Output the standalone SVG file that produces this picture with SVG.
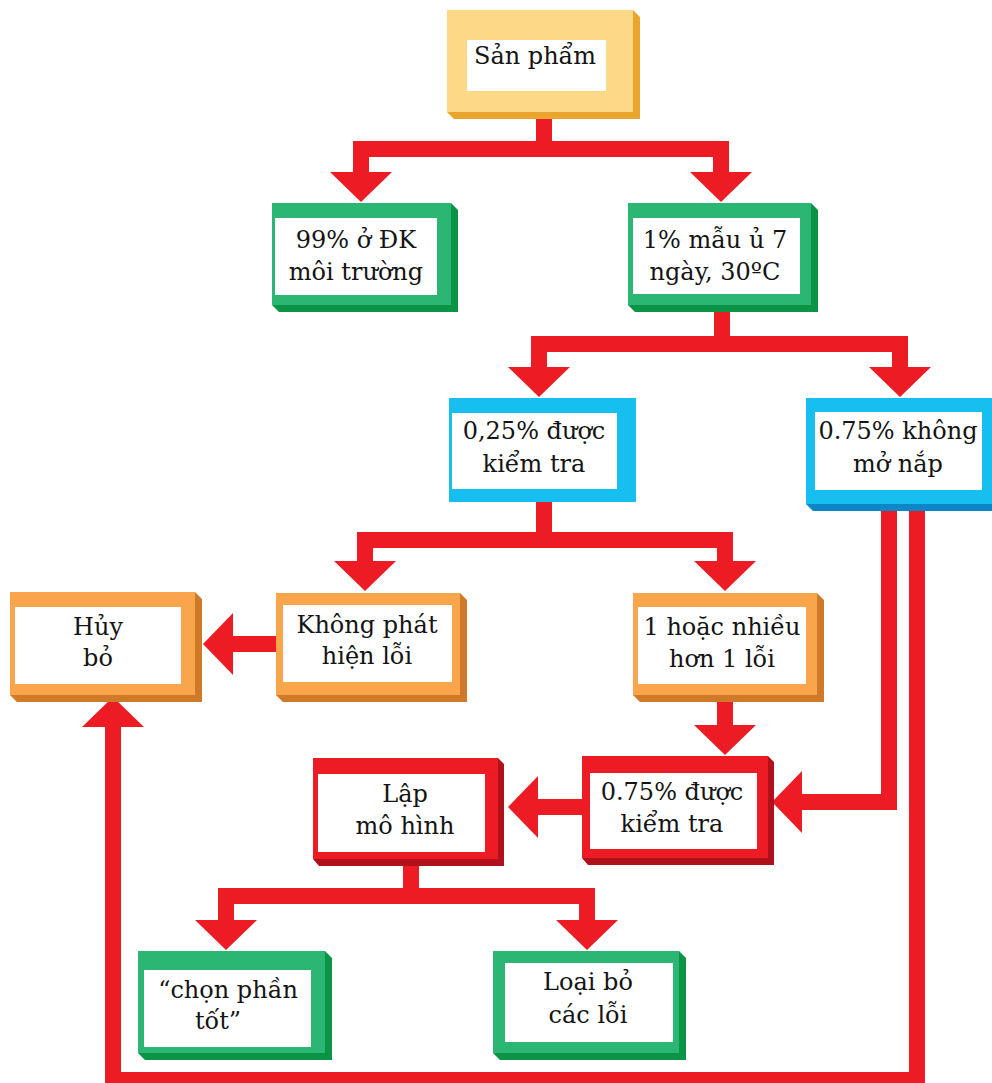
<svg xmlns="http://www.w3.org/2000/svg" xmlns:xlink="http://www.w3.org/1999/xlink" width="992" height="1083" viewBox="0 0 992 1083">
  <style>
    .wire { fill: none; stroke: #ED1C24; stroke-width: 16; stroke-linejoin: miter; stroke-linecap: butt; }
    .head { fill: #ED1C24; }
    .in { fill: #FFFFFF; }
    .lbl { font-family: "DejaVu Serif", "Liberation Serif", serif; font-size: 24px; fill: #141414; text-anchor: middle; }
    .yel .face { fill: #FDD886; } .yel .side { fill: #E9A52E; }
    .grn .face { fill: #2BB673; } .grn .side { fill: #0B9446; }
    .blu .face { fill: #17BEF0; } .blu .side { fill: #0C86C6; }
    .org .face { fill: #F8A54B; } .org .side { fill: #CF7A28; }
    .red .face { fill: #ED1C24; } .red .side { fill: #B0111A; }
  </style>
  <defs>
    <!-- arrowhead pointing down, tip at the origin -->
    <path id="ah" class="head" d="M-31,-30 L31,-30 L0,0 Z"/>
  </defs>

  <rect width="992" height="1083" fill="#FFFFFF"/>

  <!-- connectors -->
  <g id="connectors">
    <!-- Sản phẩm split -->
    <path class="wire" d="M544,112 V149"/>
    <path class="wire" d="M361,173 V149 H721 V173"/>
    <use xlink:href="#ah" transform="translate(361,202)"/>
    <use xlink:href="#ah" transform="translate(721,202)"/>

    <!-- 1% split -->
    <path class="wire" d="M722,305 V344"/>
    <path class="wire" d="M539,368 V344 H900 V368"/>
    <use xlink:href="#ah" transform="translate(539,397)"/>
    <use xlink:href="#ah" transform="translate(900,397)"/>

    <!-- 0,25% split -->
    <path class="wire" d="M544,502 V540"/>
    <path class="wire" d="M365,562 V540 H725 V562"/>
    <use xlink:href="#ah" transform="translate(365,591)"/>
    <use xlink:href="#ah" transform="translate(725,591)"/>

    <!-- Không phát hiện lỗi to Hủy bỏ -->
    <path class="wire" d="M276,644 H232"/>
    <use xlink:href="#ah" transform="translate(203,644) rotate(90)"/>

    <!-- 1 hoặc nhiều to 0.75% được kiểm tra -->
    <path class="wire" d="M725,700 V726"/>
    <use xlink:href="#ah" transform="translate(725,755)"/>

    <!-- 0.75% được kiểm tra to Lập mô hình -->
    <path class="wire" d="M582,807 H537"/>
    <use xlink:href="#ah" transform="translate(508,807) rotate(90)"/>

    <!-- 0.75% không mở nắp to 0.75% được kiểm tra -->
    <path class="wire" d="M889,505 V802 H800"/>
    <use xlink:href="#ah" transform="translate(772,802) rotate(90)"/>

    <!-- 0.75% không mở nắp round to Hủy bỏ -->
    <path class="wire" d="M917,505 V1080 H113 V725"/>
    <use xlink:href="#ah" transform="translate(113,697) rotate(180)"/>

    <!-- Lập mô hình split -->
    <path class="wire" d="M411,862 V896"/>
    <path class="wire" d="M226,921 V896 H587 V921"/>
    <use xlink:href="#ah" transform="translate(226,950)"/>
    <use xlink:href="#ah" transform="translate(587,950)"/>
  </g>

  <!-- nodes: darker bevel behind, coloured face, white label panel -->
  <g id="san-pham" class="yel">
    <path class="side" d="M633,10 L640,17 V119 H454 L447,112 H633 Z"/>
    <rect class="face" x="447" y="10" width="186" height="102"/>
    <rect class="in" x="467" y="40" width="139" height="51"/>
    <text class="lbl" x="535" y="64">Sản phẩm</text>
  </g>

  <g id="dk-moi-truong" class="grn">
    <path class="side" d="M451,203 L458,210 V312 H279 L272,305 H451 Z"/>
    <rect class="face" x="272" y="203" width="179" height="102"/>
    <rect class="in" x="275" y="218" width="162" height="77"/>
    <text class="lbl" x="356" y="248">99% ở ĐK</text>
    <text class="lbl" x="356" y="280">môi trường</text>
  </g>

  <g id="mau-u" class="grn">
    <path class="side" d="M811,203 L818,210 V312 H635 L628,305 H811 Z"/>
    <rect class="face" x="628" y="203" width="183" height="102"/>
    <rect class="in" x="633" y="218" width="167" height="76"/>
    <text class="lbl" x="715" y="248">1% mẫu ủ 7</text>
    <text class="lbl" x="715" y="280">ngày, 30ºC</text>
  </g>

  <g id="duoc-kiem-tra-025" class="blu">
    <rect class="face" x="449" y="398" width="187" height="104"/>
    <rect class="in" x="452" y="413" width="165" height="76"/>
    <text class="lbl" x="534" y="439">0,25% được</text>
    <text class="lbl" x="534" y="472">kiểm tra</text>
  </g>

  <g id="khong-mo-nap" class="blu">
    <path class="side" d="M996,398 L1003,405 V511 H813 L806,504 H996 Z"/>
    <rect class="face" x="806" y="398" width="190" height="106"/>
    <rect class="in" x="815" y="412" width="167" height="78"/>
    <text class="lbl" x="898" y="439">0.75% không</text>
    <text class="lbl" x="898" y="472">mở nắp</text>
  </g>

  <g id="huy-bo" class="org">
    <path class="side" d="M195,592 L202,599 V702 H17 L10,695 H195 Z"/>
    <rect class="face" x="10" y="592" width="185" height="103"/>
    <rect class="in" x="15" y="607" width="166" height="77"/>
    <text class="lbl" x="98" y="635">Hủy</text>
    <text class="lbl" x="98" y="666">bỏ</text>
  </g>

  <g id="khong-phat-hien" class="org">
    <path class="side" d="M460,593 L467,600 V702 H283 L276,695 H460 Z"/>
    <rect class="face" x="276" y="593" width="184" height="102"/>
    <rect class="in" x="283" y="605" width="169" height="77"/>
    <text class="lbl" x="367" y="633">Không phát</text>
    <text class="lbl" x="367" y="664">hiện lỗi</text>
  </g>

  <g id="nhieu-loi" class="org">
    <path class="side" d="M817,593 L824,600 V702 H640 L633,695 H817 Z"/>
    <rect class="face" x="633" y="593" width="184" height="102"/>
    <rect class="in" x="638" y="607" width="168" height="77"/>
    <text class="lbl" x="722" y="635">1 hoặc nhiều</text>
    <text class="lbl" x="722" y="667">hơn 1 lỗi</text>
  </g>

  <g id="duoc-kiem-tra-075" class="red">
    <path class="side" d="M768,756 L774,762 V865 H588 L582,858 H768 Z"/>
    <rect class="face" x="582" y="756" width="186" height="102"/>
    <rect class="in" x="590" y="773" width="167" height="76"/>
    <text class="lbl" x="672" y="800">0.75% được</text>
    <text class="lbl" x="672" y="832">kiểm tra</text>
  </g>

  <g id="lap-mo-hinh" class="red">
    <path class="side" d="M498,758 L504,764 V866 H319 L313,859 H498 Z"/>
    <rect class="face" x="313" y="758" width="185" height="101"/>
    <rect class="in" x="318" y="774" width="167" height="78"/>
    <text class="lbl" x="405" y="802">Lập</text>
    <text class="lbl" x="405" y="834">mô hình</text>
  </g>

  <g id="chon-phan-tot" class="grn">
    <path class="side" d="M325,951 L332,958 V1060 H145 L138,1053 H325 Z"/>
    <rect class="face" x="138" y="951" width="187" height="102"/>
    <rect class="in" x="144" y="970" width="167" height="77"/>
    <text class="lbl" x="228" y="998">“chọn phần</text>
    <text class="lbl" x="218" y="1029">tốt”</text>
  </g>

  <g id="loai-bo-loi" class="grn">
    <path class="side" d="M679,951 L686,958 V1060 H500 L493,1053 H679 Z"/>
    <rect class="face" x="493" y="951" width="186" height="102"/>
    <rect class="in" x="505" y="963" width="168" height="79"/>
    <text class="lbl" x="588" y="990">Loại bỏ</text>
    <text class="lbl" x="588" y="1023">các lỗi</text>
  </g>
</svg>
